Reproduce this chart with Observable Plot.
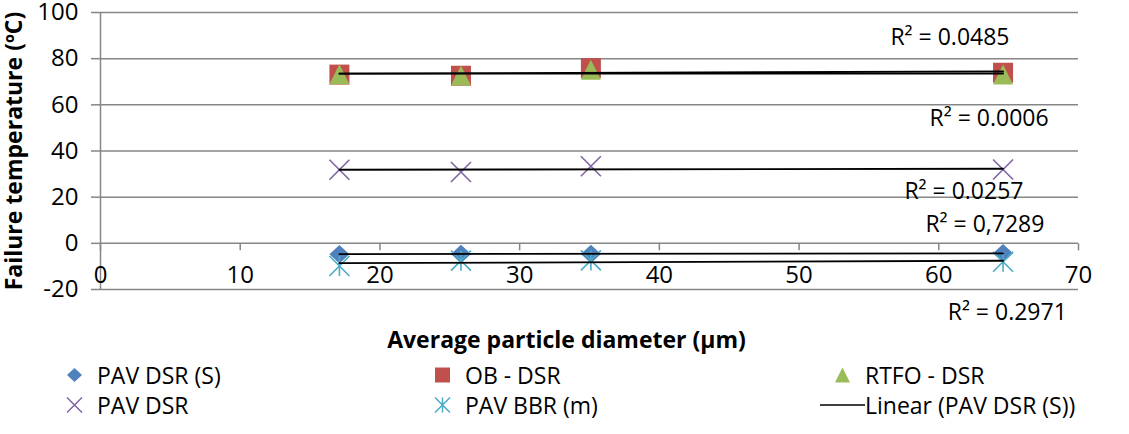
<!DOCTYPE html>
<html><head><meta charset="utf-8">
<script src="https://cdn.jsdelivr.net/npm/d3@7"></script>
<script src="https://cdn.jsdelivr.net/npm/@observablehq/plot@0.6"></script>
<style>
body{margin:0;background:#fff;font-family:"Open Sans",sans-serif;}
#chart{width:1129px;height:356px;}
#legend{position:relative;width:1129px;height:78px;font-size:23px;color:#000;}
.item{position:absolute;display:flex;align-items:center;height:30px;white-space:nowrap;}
.item svg{flex:none;display:block;}
</style></head><body><div id="chart"></div><div id="legend"></div>
<script>
// ---- data ----
const diameters = [17.1, 25.8, 35.1, 64.6];
const seriesNames = ["PAV DSR (S)", "OB - DSR", "RTFO - DSR", "PAV DSR", "PAV BBR (m)"];
const pavDsrS = [-4.7, -4.6, -4.6, -4.3];
const obDsr   = [73.1, 72.6, 75.9, 73.9];
const rtfoDsr = [73.2, 72.7, 75.2, 73.1];
const pavDsr  = [31.9, 30.9, 33.4, 32.0];
const pavBbrM = [-9.8, -7.5, -7.4, -8.0];
const xTicks = [0, 10, 20, 30, 40, 50, 60, 70];
const yTicks = [-20, 0, 20, 40, 60, 80, 100];
const r2Labels = ["R² = 0.0485", "R² = 0.0006", "R² = 0.0257", "R² = 0,7289", "R² = 0.2971"];
const r2LabelX = [60.8, 63.6, 61.8, 63.3, 64.9];
const r2LabelY = [89.2, 54.1, 22.3, 7.9, -30.1];
const xTitle = "Average particle diameter (μm)";
const yTitle = "Failure temperature (ºC)";
const trendLegend = "Linear (PAV DSR (S))";

// ---- symbols & styles ----
const rad = s => Math.sqrt(s / Math.PI);
const sym = {
  diamond: {draw(c, s) {const h = rad(s); c.moveTo(0, -h * 0.92); c.lineTo(h, 0); c.lineTo(0, h * 0.92); c.lineTo(-h, 0); c.closePath();}},
  square: {draw(c, s) {const h = rad(s); c.rect(-h, -h, 2 * h, 2 * h);}},
  triangle: {draw(c, s) {const h = rad(s); c.moveTo(0, -h); c.lineTo(h, h); c.lineTo(-h, h); c.closePath();}},
  cross: {draw(c, s) {const h = rad(s); c.moveTo(-h, -h); c.lineTo(h, h); c.moveTo(h, -h); c.lineTo(-h, h);}},
  star: {draw(c, s) {const h = rad(s); c.moveTo(-h, -h); c.lineTo(h, h); c.moveTo(h, -h); c.lineTo(-h, h); c.moveTo(0, -h); c.lineTo(0, h);}},
  tickDown: {draw(c, s) {const h = rad(s); c.moveTo(0, 0); c.lineTo(0, h);}}
};
const styles = [
  {symbol: sym.diamond, fill: "#4F81BD", stroke: "none"},
  {symbol: sym.square, fill: "#C0504D", stroke: "none"},
  {symbol: sym.triangle, fill: "#9BBB59", stroke: "none"},
  {symbol: sym.cross, fill: "none", stroke: "#8064A2"},
  {symbol: sym.star, fill: "none", stroke: "#4BACC6"}
];

const seriesValues = [pavDsrS, obDsr, rtfoDsr, pavDsr, pavBbrM];
const rows = seriesNames.flatMap((name, i) => diameters.map((d, j) => ({series: name, x: d, y: seriesValues[i][j]})));

const grid = "#868686";
const chart = Plot.plot({
  width: 1129, height: 356,
  marginLeft: 100, marginRight: 51, marginTop: 12, marginBottom: 67,
  x: {domain: [0, 70], axis: null},
  y: {domain: [-20, 100]},
  style: {fontFamily: "'Open Sans', sans-serif", fontSize: "23px", color: "#000", background: "#fff", overflow: "visible"},
  marks: [
    Plot.gridY(yTicks, {stroke: grid, strokeOpacity: 1, strokeWidth: 1.5}),
    Plot.ruleX([0], {stroke: grid, strokeWidth: 1.5}),
    Plot.axisY(yTicks, {tickSize: 9, tickPadding: 13, tickFormat: d => `${d}`, stroke: grid, strokeWidth: 1.5, label: null, fontSize: 24}),
    Plot.dot(xTicks, {x: d => d, y: 0, r: 7, symbol: sym.tickDown, stroke: grid, strokeWidth: 1.5, fill: "none"}),
    Plot.text(xTicks, {x: d => d, y: 0, text: d => `${d}`, dy: 32, fontSize: 24, fill: "#000"}),
    ...seriesNames.map((name, i) => Plot.dot(rows.filter(r => r.series === name), {
      x: "x", y: "y", r: 10, symbol: styles[i].symbol, fill: styles[i].fill, stroke: styles[i].stroke, strokeWidth: 1.6
    })),
    Plot.linearRegressionY(rows, {x: "x", y: "y", z: "series", stroke: "#000", strokeWidth: 1.8, ci: 0}),
    Plot.text(r2Labels, {x: (d, i) => r2LabelX[i], y: (d, i) => r2LabelY[i], text: d => d, fontSize: 23, fill: "#000", textAnchor: "middle"}),
    Plot.text([yTitle], {frameAnchor: "left", rotate: -90, dx: -86, text: d => d, textAnchor: "middle", lineAnchor: "middle", fontWeight: "bold", fontSize: 23, fill: "#000"}),
    Plot.text([xTitle], {frameAnchor: "bottom", dx: -23, dy: 51, text: d => d, textAnchor: "middle", lineAnchor: "middle", fontWeight: "bold", fontSize: 23, fill: "#000"})
  ]
});
document.getElementById("chart").append(chart);

// ---- legend ----
const legend = document.getElementById("legend");
const colLeft = [52, 420, 820];
const rowTop = [4, 34];
const entries = seriesNames.map((name, i) => ({name, style: styles[i]})).concat([{name: trendLegend, line: true}]);
entries.forEach((e, k) => {
  const item = document.createElement("div");
  item.className = "item";
  item.style.left = colLeft[k % 3] + "px";
  item.style.top = rowTop[Math.floor(k / 3)] + "px";
  const ns = "http://www.w3.org/2000/svg";
  const svg = document.createElementNS(ns, "svg");
  svg.setAttribute("width", 45); svg.setAttribute("height", 30);
  const path = document.createElementNS(ns, "path");
  if (e.line) {
    path.setAttribute("d", "M0,15H45");
    path.setAttribute("stroke", "#000"); path.setAttribute("stroke-width", 1.5); path.setAttribute("fill", "none");
  } else {
    const p = d3.path();
    e.style.symbol.draw(p, Math.PI * 7.5 * 7.5);
    path.setAttribute("d", p.toString());
    path.setAttribute("transform", "translate(22.5,15)");
    path.setAttribute("fill", e.style.fill); path.setAttribute("stroke", e.style.stroke); path.setAttribute("stroke-width", 1.5);
  }
  svg.append(path);
  const span = document.createElement("span");
  span.textContent = e.name;
  item.append(svg, span);
  legend.append(item);
});
</script></body></html>
